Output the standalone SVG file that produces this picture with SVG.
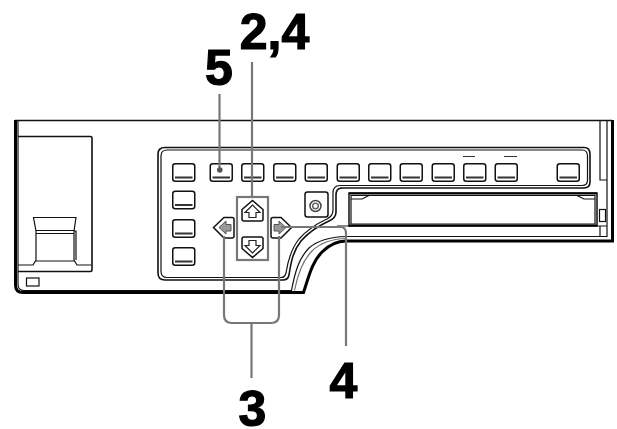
<svg xmlns="http://www.w3.org/2000/svg" width="617" height="429" viewBox="0 0 617 429">
<defs>
<style>
.l{fill:none;stroke:#111;stroke-width:1.2}
.m{fill:none;stroke:#111;stroke-width:1.6}
.h{fill:none;stroke:#000;stroke-width:3}
.g{fill:none;stroke:#777;stroke-width:2.200}
.n{fill:#fff;stroke:#111;stroke-width:1.5}
.t{font-family:"Liberation Sans",Arial,sans-serif;font-weight:700;font-size:50px;fill:#000;stroke:#000;stroke-width:1.200;text-anchor:middle}
</style>
<g id="btn"><rect x="0.75" y="0.75" width="22" height="17.5" rx="2.5" class="n"/><path d="M3 14.5H20.5" fill="none" stroke="#333" stroke-width="2"/></g>
</defs>
<rect width="617" height="429" fill="#fff"/>
<g id="chassis">
<path class="m" d="M15 120.500H612"/>
<path class="h" d="M15.500 120V285Q15.500 292.500 23 292.500H303.500C309 276 312 262 322 252C329 245 336 241 346 241H612.500V120" />
<path class="l" d="M18 121V284Q18 290.500 24 290.500H291.500C295 272 299 258 309 248C318 240 330 237 346 236.500H607V121"/>
<path class="l" d="M294.500 290.500C298 273 303 260 312 251C320 243 331 239 346 238.500" stroke-opacity=".6"/>
<path class="l" d="M600 120V180H607M600 226V236"/>
<rect x="599.500" y="209.500" width="6" height="12" class="l"/>
</g>
<g id="left-module">
<path class="m" d="M18 136.500H90.500Q92 136.500 92 138V270Q92 271.500 90.500 271.500H18"/>
<path class="l" d="M18 265H33L36 260V231L33.500 217.500H76L74 231V260L77 265H91"/>
<path class="l" d="M36 230.500H74M36 233.500H74M36 261H74M74 231H76V260"/>
<rect x="26.500" y="278" width="12.500" height="8" class="l"/>
</g>
<g id="panel">
<path class="m" d="M340 188H584Q590 188 590 182V154Q590 147.500 584 147.500H165Q158 147.500 158 154V273Q158 280 165 280H283Q288 280 289 275C291 262 293 251 301 241C309 232 318 226 329 221Q336 218 336 212V195Q336 188 342 188"/>
<path class="l" d="M340 185.500H582Q587.500 185.500 587.500 180V156Q587.500 150 582 150H167Q161 150 161 156V271Q161 277.500 167 277.500H281Q285 277.500 286 273C288 260 291 249 299 239C307 230 316 224 327 219Q333 216 333 210V193Q333 185.500 340 185.500"/>
</g>
<g id="slot">
<path fill="#fff" stroke="#111" stroke-width="1.500" d="M349 193H597V226H349Z"/>
<path class="l" d="M351 195.500H595V224H351ZM351 199H362L369 195.500M595 199H584L577 195.500"/>
<path d="M349 193.500H597M349 225.500H597" stroke="#000" stroke-width="2.200"/>
<path d="M337 226H350M597 226H607" stroke="#111" fill="none"/>
</g>
<g id="buttons">
<use href="#btn" x="172" y="163"/><use href="#btn" x="209.500" y="163"/><use href="#btn" x="241" y="163"/><use href="#btn" x="273" y="163"/><use href="#btn" x="304.500" y="163"/><use href="#btn" x="336.500" y="163"/><use href="#btn" x="368" y="163"/><use href="#btn" x="399.500" y="163"/><use href="#btn" x="431.500" y="163"/><use href="#btn" x="463" y="163"/><use href="#btn" x="494.500" y="163"/><use href="#btn" x="556.500" y="163"/>
<use href="#btn" x="172" y="190.500"/><use href="#btn" x="172" y="219"/><use href="#btn" x="172" y="247"/>
<path d="M463 156.500H475M504 156.500H517" stroke="#333" stroke-width="1.200"/>
</g>
<g id="knob">
<rect x="305" y="192" width="23" height="25" rx="2.500" class="n"/>
<circle cx="315.500" cy="206" r="5.500" fill="#fff" stroke="#444" stroke-width="1.500"/>
<circle cx="315.500" cy="206" r="2.800" fill="#fff" stroke="#666" stroke-width="1.500"/>
</g>
<g id="up">
<path class="n" d="M242 209.500L252.500 200.500L263 209.500V219Q263 221 261 221H244Q242 221 242 219Z"/>
<path d="M252.500 205L260 212.500H256V217.500H249V212.500H245Z" fill="#fff" stroke="#222" stroke-width="1.200"/>
</g>
<g id="down">
<path class="n" d="M242 248.500L252.500 257.500L263 248.500V239Q263 237 261 237H244Q242 237 242 239Z"/>
<path d="M252.500 253L260 245.500H256V240.500H249V245.500H245Z" fill="#fff" stroke="#222" stroke-width="1.200"/>
</g>
<g id="left">
<path class="n" d="M213.500 227.500L224 217.500H232Q234 217.500 234 219.500V236Q234 238 232 238H224Z"/>
<path d="M219 227.500L226 221V224.500H231V231H226V234Z" fill="#999" stroke="#555" stroke-width="1"/>
</g>
<g id="right">
<path class="n" d="M291.500 227.500L281 217.500H273Q271 217.500 271 219.500V236Q271 238 273 238H281Z"/>
<path d="M286 227.500L279 221V224.500H274V231H279V234Z" fill="#999" stroke="#555" stroke-width="1"/>
</g>
<g id="connectors">
<path class="g" d="M219.500 94V170"/>
<circle cx="219.800" cy="170" r="2.800" fill="#555"/>
<path class="g" d="M252 62V197"/>
<rect x="237" y="197" width="31" height="63" class="g"/>
<path class="g" d="M224 236V315Q224 323 232 323H271Q279 323 279 315V236"/>
<path class="g" d="M251.500 323V378"/>
<path class="g" d="M281 227H340Q346 227 346 233V346"/>
</g>
<g id="labels">
<text class="t" x="219" y="84.500">5</text>
<text class="t" x="274.500" y="49">2,4</text>
<text class="t" x="343.500" y="397.500">4</text>
<text class="t" x="252.500" y="426">3</text>
</g>
</svg>
